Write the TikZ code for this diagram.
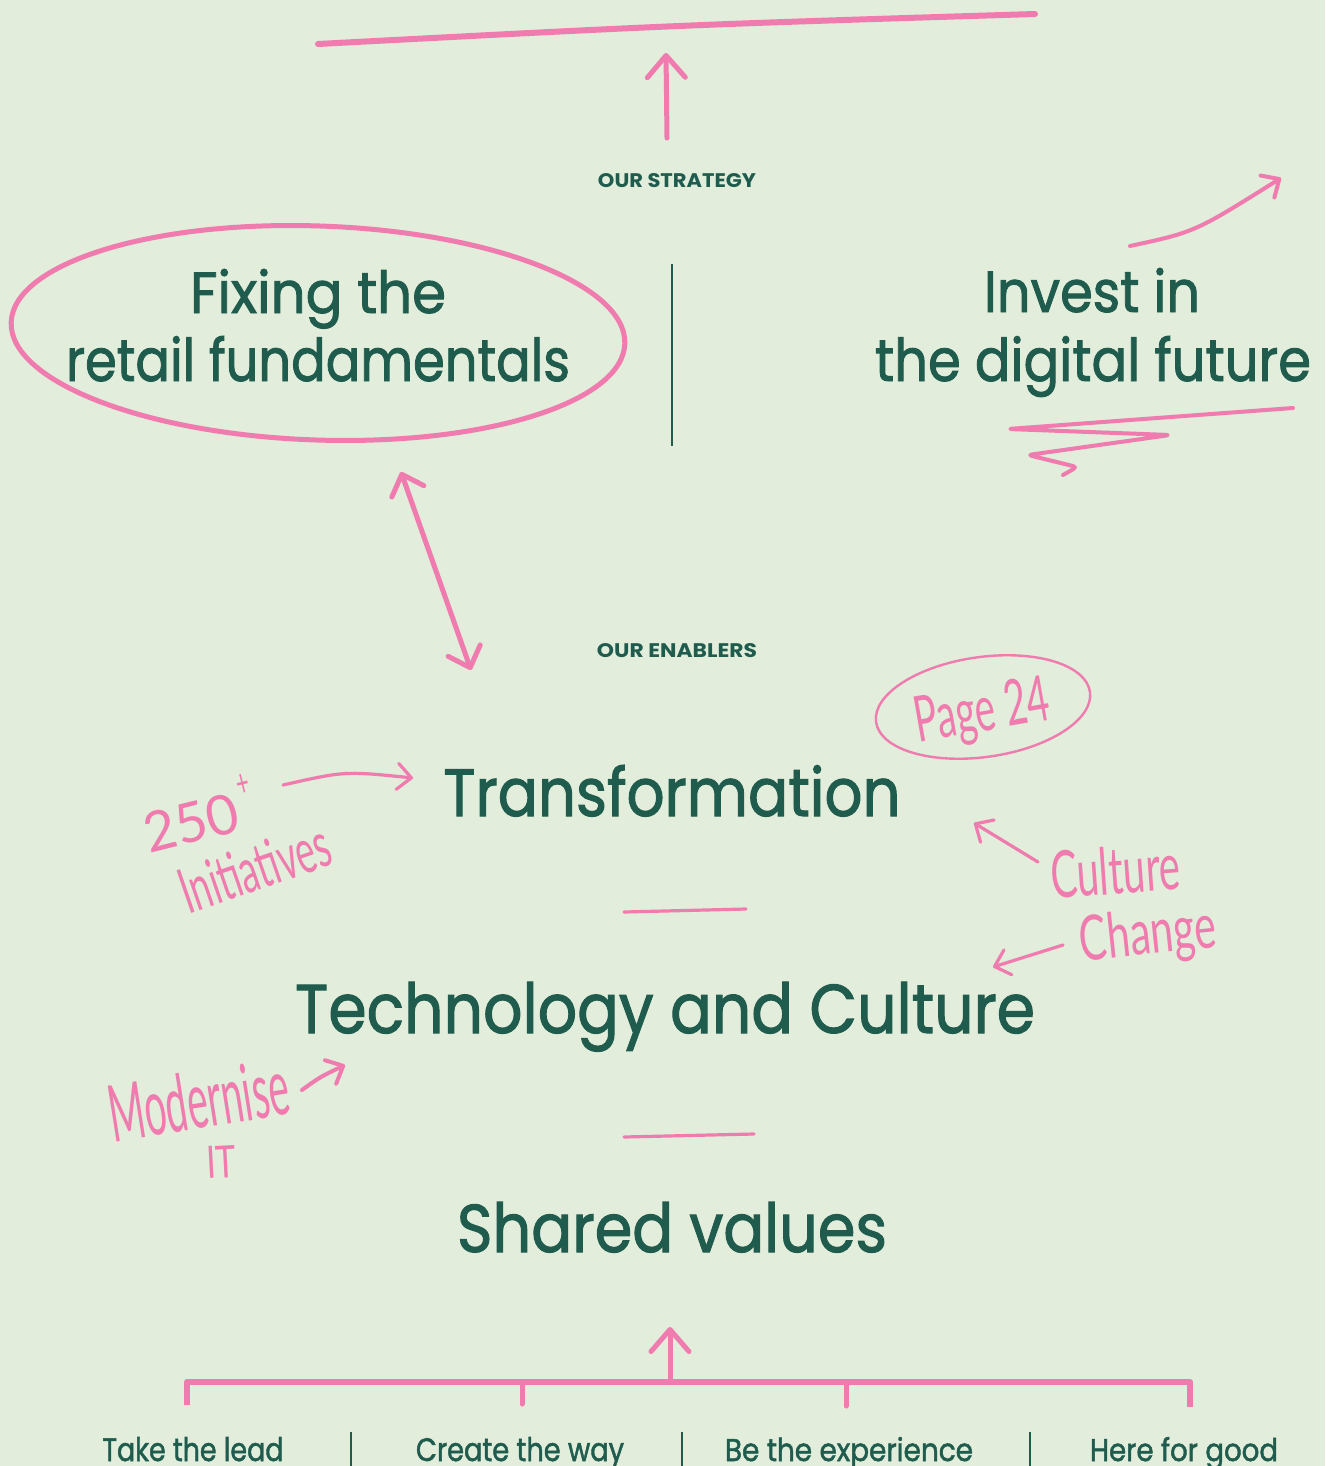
\documentclass[tikz,border=0pt]{standalone}
\usepackage{fontspec}
\setmainfont{Poppins}
\newfontfamily\medfont{Poppins}[FakeBold=1.6]
\newfontfamily\hand{Lato}
\usetikzlibrary{arrows.meta}
\definecolor{bgc}{HTML}{E2EDDB}
\definecolor{ink}{HTML}{1F5C4E}
\definecolor{marker}{HTML}{F07BAE}
\newcommand\fitbox[3]{\resizebox{#1pt}{#2pt}{#3}}
\tikzset{
  mk/.style={draw=marker, line width=5pt, line cap=round, line join=round},
  thinmk/.style={draw=marker, line width=3.2pt, line cap=round, line join=round},
  bigbarb/.style={-{Straight Barb[length=22pt,width=38pt,round]}},
  smallbarb/.style={-{Straight Barb[length=14pt,width=26pt,round]}},
  title/.style={inner sep=0pt, anchor=base, text=ink, font=\medfont},
  caps/.style={inner sep=0pt, anchor=base, text=ink, font=\bfseries},
  hw/.style={inner sep=0pt, anchor=base, text=marker, font=\hand},
  sep/.style={draw=ink, line width=1.1pt}
}
\begin{document}
\begin{tikzpicture}[x=1pt,y=-1pt]
\useasboundingbox (0,0) rectangle (1325,1466);
\fill[bgc] (0,0) rectangle (1325,1466);

% ---- strategy ----
\coordinate (topL) at (318,44);
\coordinate (topR) at (1035,14);
\draw[mk, line width=6pt] (topL) .. controls (680,25) .. (topR);
\coordinate (ua0) at (667,138);
\coordinate (ua1) at (666,53);
\draw[mk, bigbarb] (ua0) -- (ua1);

\node[caps] (strat) at (677,188) {\fitbox{158}{14}{OUR STRATEGY}};

\node[title] (fix1) at (318,313) {\fitbox{256}{44}{Fixing the}};
\node[title] (fix2) at (318,381) {\fitbox{504}{45}{retail fundamentals}};
\node[title] (inv1) at (1092,312) {\fitbox{216}{44}{Invest in}};
\node[title] (inv2) at (1093,381) {\fitbox{436}{45}{the digital future}};

\coordinate (divT) at (672,264);
\coordinate (divB) at (672,446);
\draw[sep] (divT) -- (divB);

% circle around fixing
\draw[mk, rotate around={-2:(318,333)}] (318,333) ellipse [x radius=307, y radius=107];

% invest arrow + scribble
\coordinate (a5s) at (1130,246);
\coordinate (a5e) at (1281,178);
\draw[thinmk, line width=4pt, smallbarb] (a5s) .. controls (1195,232) .. (a5e);
\draw[thinmk, line width=4pt, rounded corners=4pt] (1293,408) -- (1008,429) -- (1170,435) -- (1028,455) -- (1077,467) -- (1063,475);

% double arrow
\coordinate (da0) at (401,472);
\coordinate (da1) at (471,670);
\draw[mk, {Straight Barb[length=18pt,width=34pt,round]}-{Straight Barb[length=18pt,width=34pt,round]}] (da0) -- (da1);

% ---- enablers ----
\node[caps] (enab) at (677,657) {\fitbox{160}{14}{OUR ENABLERS}};
\node[title] (trans) at (672,816) {\fitbox{457}{51}{Transformation}};
\node[title] (tech) at (665,1033) {\fitbox{740}{51}{Technology and Culture}};
\node[title] (shared) at (672,1252) {\fitbox{430}{50}{Shared values}};

\coordinate (l1a) at (624,912);
\coordinate (l1b) at (746,909);
\draw[thinmk] (l1a) -- (l1b);
\coordinate (l2a) at (624,1137);
\coordinate (l2b) at (754,1134);
\draw[thinmk] (l2a) -- (l2b);

% annotations
\node[hw, rotate=14] (n250) at (196,842) {\fitbox{96}{40}{250}};
\node[hw, rotate=14] (nplus) at (246,796) {\fitbox{13}{22}{+}};
\node[hw, rotate=19] (ninit) at (262,889) {\fitbox{156}{46}{Initiatives}};
\coordinate (a1s) at (283,785);
\coordinate (a1e) at (413,778);
\draw[thinmk, smallbarb] (a1s) .. controls (345,771) .. (a1e);

\draw[thinmk, line width=2.4pt, rotate around={8:(983,707)}] (983,707) ellipse [x radius=108, y radius=50];
\node[hw, rotate=10] (page) at (985,731) {\fitbox{136}{46}{Page 24}};

\node[hw, rotate=4] (cult) at (1117,894) {\fitbox{130}{48}{Culture}};
\node[hw, rotate=6] (chg) at (1150,954) {\fitbox{137}{46}{Change}};
\coordinate (a2s) at (1038,862);
\coordinate (a2e) at (974,823);
\draw[thinmk, smallbarb] (a2s) -- (a2e);
\coordinate (a3s) at (1063,945);
\coordinate (a3e) at (993,967);
\draw[thinmk, smallbarb] (a3s) -- (a3e);

\node[hw, rotate=9] (mod) at (203,1128) {\fitbox{182}{58}{Modernise}};
\node[hw, rotate=3] (nit) at (222,1178) {\fitbox{30}{32}{IT}};
\coordinate (a4s) at (302,1090);
\coordinate (a4e) at (345,1065);
\draw[thinmk, line width=4pt, smallbarb] (a4s) .. controls (320,1077) .. (a4e);

% ---- values bracket ----
\coordinate (bL) at (187,1382);
\coordinate (bR) at (1190,1382);
\coordinate (bM) at (670,1382);
\coordinate (bUp) at (670,1327);
\draw[mk, line width=6pt, line cap=butt] (187,1405) -- (bL) -- (bR) -- (1190,1407);
\draw[mk] (522,1382) -- (522,1404);
\draw[mk] (846,1382) -- (846,1406);
\draw[mk, bigbarb] (bM) -- (bUp);

\node[title] (v1) at (193,1461) {\fitbox{181}{24}{Take the lead}};
\node[title] (v2) at (520,1461) {\fitbox{208}{24}{Create the way}};
\node[title] (v3) at (849,1461) {\fitbox{248}{24}{Be the experience}};
\node[title] (v4) at (1184,1461) {\fitbox{188}{24}{Here for good}};
\draw[sep] (351,1432) -- (351,1466);
\draw[sep] (682,1432) -- (682,1466);
\draw[sep] (1030,1432) -- (1030,1466);
\end{tikzpicture}
\end{document}
